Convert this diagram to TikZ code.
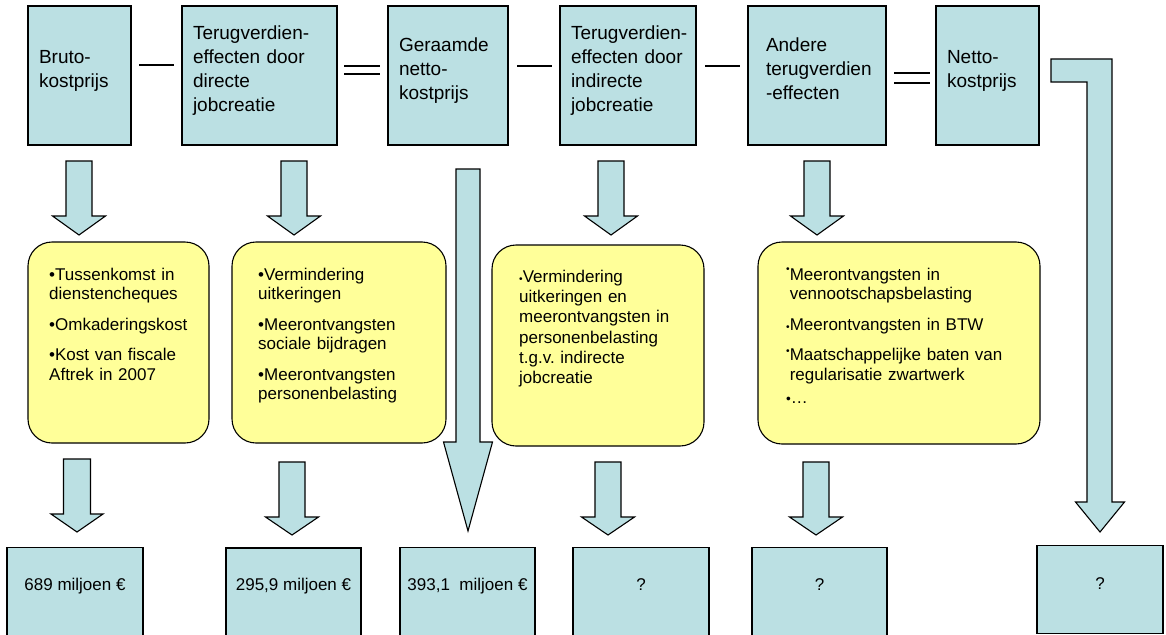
\documentclass[tikz,border=0pt]{standalone}
\usepackage{fontspec}
\usepackage{graphicx}
\setmainfont{Liberation Sans}
\frenchspacing
\definecolor{boxblue}{HTML}{BBE0E3}
\definecolor{noteyellow}{HTML}{FFFF99}
\newcommand{\smalldot}{\scalebox{0.6}{•}}
\newcommand{\blockarrow}[6]{\draw[arrowblock] ({#1-#5},#2) -- ({#1+#5},#2) -- ({#1+#5},#3) -- ({#1+#6},#3) -- (#1,#4) -- ({#1-#6},#3) -- ({#1-#5},#3) -- cycle;}
\tikzset{
  topbox/.style={draw, fill=boxblue, line width=1.1pt, minimum height=139pt, inner xsep=11pt, inner ysep=0pt,
    align=left, font=\fontsize{19}{24}\selectfont, execute at end node=\rule[-14pt]{0pt}{0pt}},
  notebox/.style={draw, fill=noteyellow, line width=1.1pt, rounded corners=24pt},
  notetext/.style={anchor=base west, inner sep=0pt, align=left, font=\fontsize{17}{19.5}\selectfont},
  resbox/.style={draw, fill=boxblue, line width=1.1pt, anchor=north, inner ysep=0pt, minimum width=135pt,
    text height=43pt, text depth=50pt, font=\fontsize{17}{20}\selectfont},
  arrowblock/.style={draw, fill=boxblue, line width=1.1pt, line join=miter},
  opline/.style={line width=1.4pt}
}
\begin{document}
\begin{tikzpicture}[x=1pt,y=-1pt]
\useasboundingbox (0,0) rectangle (1166,634);
% top row
\node[topbox, text width=81pt] (bruto) at (79.5,75.5) {Bruto-\\kostprijs};
\node[topbox, text width=133pt] (direct) at (259.5,75.5) {Terugverdien-\\effecten door\\directe\\jobcreatie};
\node[topbox, text width=98pt] (geraamd) at (448,75.5) {Geraamde\\netto-\\kostprijs};
\node[topbox, inner xsep=8pt, text width=120pt] (indirect) at (628,75.5) {\hspace*{3pt}Terugverdien-\\\hspace*{3pt}effecten door\\\hspace*{3pt}indirecte\\\hspace*{3pt}jobcreatie};
\node[topbox, inner xsep=18pt, text width=102pt] (ander) at (817,75.5) {Andere\\terugverdien\\-effecten};
\node[topbox, text width=81pt] (netto) at (987.5,75.5) {Netto-\\kostprijs};
\draw[opline] (139,65) -- (174,65);
\draw[opline] (344,66) -- (380,66) (344,74) -- (380,74);
\draw[opline] (517,66) -- (552,66);
\draw[opline] (705,66) -- (740,66);
\draw[opline] (894,73) -- (930,73) (894,83) -- (930,83);
% yellow boxes
\node[notebox, minimum width=181pt, minimum height=201pt] (brutonote) at (118.5,342.5) {};
\node[notebox, minimum width=214pt, minimum height=201pt] (directnote) at (339,342.5) {};
\node[notebox, minimum width=212pt, minimum height=201pt] (indirectnote) at (598,345.5) {};
\node[notebox, minimum width=282pt, minimum height=202pt] (andernote) at (899,343) {};
\node[notetext, text width=150pt] (brutotext) at (49,280)
  {•Tussenkomst in\\dienstencheques\\[11pt]•Omkaderingskost\\[11pt]•Kost van fiscale\\Aftrek in 2007};
\node[notetext, text width=175pt] (directtext) at (258,280)
  {•Vermindering\\uitkeringen\\[11pt]•Meerontvangsten\\sociale bijdragen\\[11pt]•Meerontvangsten\\personenbelasting};
\node[notetext, text width=180pt, font=\fontsize{17}{20.1}\selectfont] (indirecttext) at (519,282.7)
  {\smalldot Vermindering\\uitkeringen en\\meerontvangsten in\\personenbelasting\\t.g.v. indirecte\\jobcreatie};
\node[notetext, text width=245pt] (andertext) at (786,280)
  {\raisebox{8pt}{\smalldot}Meerontvangsten in\\\hphantom{\smalldot}vennootschapsbelasting\\[11pt]\smalldot Meerontvangsten in BTW\\[11pt]\raisebox{6.5pt}{\smalldot}Maatschappelijke baten van\\\hphantom{\smalldot}regularisatie zwartwerk\\[4pt]\scalebox{0.8}{•}…};
% bottom row
\node[resbox, minimum width=136pt] (brutores) at (75,547) {689 miljoen €};
\node[resbox, line width=1.7pt] (directres) at (293.5,547) {295,9 miljoen €};
\node[resbox] (geraamdres) at (467.5,547) {393,1\ \ miljoen €};
\node[resbox, minimum width=136pt] (indirectres) at (641,547) {?};
\node[resbox] (anderres) at (819.5,547) {?};
\node[resbox, minimum width=126pt, text height=44pt, text depth=44pt] (nettores) at (1100,545) {?};
% arrows
\foreach \cx in {79,294,611,817} {\blockarrow{\cx}{161}{216}{235}{13}{26.5}}
\blockarrow{77}{459}{514}{532}{13.5}{26}
\foreach \cx in {292,608,816} {\blockarrow{\cx}{462}{517}{535}{13}{26.5}}
\blockarrow{468}{169}{442}{531}{12}{24.5}
\draw[arrowblock] (1051,59) -- (1112,59) -- (1112,502) -- (1124.5,502) -- (1100,532) -- (1075.5,502)
  -- (1087,502) -- (1087,82) -- (1051,82) -- cycle;
\end{tikzpicture}
\end{document}
